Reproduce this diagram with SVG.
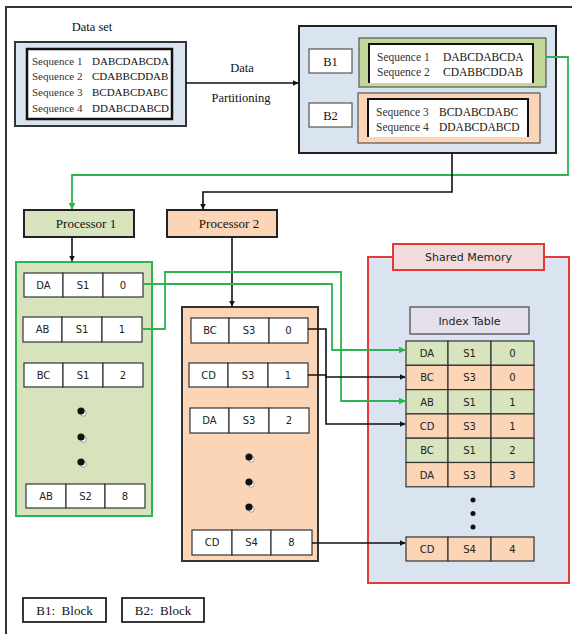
<svg xmlns="http://www.w3.org/2000/svg" width="574" height="634" viewBox="0 0 574 634">
<defs>
<style>
.serif{font-family:"Liberation Serif","Times New Roman",serif;fill:#111}
.sans{font-family:"DejaVu Sans","Verdana",sans-serif;fill:#222;font-size:10px}
.cell{fill:#fff;stroke:#333;stroke-width:1.2}
.gcell{fill:#d7e4bd;stroke:#333;stroke-width:1.2}
.ocell{fill:#fbd5b5;stroke:#333;stroke-width:1.2}
.blk{fill:none;stroke:#111;stroke-width:1.6}
.grn{fill:none;stroke:#2db350;stroke-width:1.8}
</style>
<marker id="ab" viewBox="0 0 10 10" refX="9" refY="5" markerWidth="6" markerHeight="6" orient="auto" markerUnits="userSpaceOnUse"><path d="M0,0 L10,5 L0,10 z" fill="#111"/></marker>
<marker id="ag" viewBox="0 0 10 10" refX="9" refY="5" markerWidth="7" markerHeight="7" orient="auto" markerUnits="userSpaceOnUse"><path d="M0,0 L10,5 L0,10 z" fill="#2db350"/></marker>
<g id="bullet"><circle cx="2.2" cy="2.2" r="3" fill="#fff" stroke="#777" stroke-width="0.7"/><circle cx="0" cy="0" r="3.6" fill="#111"/></g>
</defs>
<rect width="574" height="634" fill="#fff"/>
<path d="M6,634 V7 H572" fill="none" stroke="#333" stroke-width="2"/>

<g id="dataset">
<text class="serif" x="92" y="31" font-size="12.5" text-anchor="middle">Data set</text>
<rect x="15" y="42" width="171" height="84" fill="#dae3f0" stroke="#333" stroke-width="2"/>
<rect x="27" y="49" width="145" height="70" fill="#fff" stroke="#111" stroke-width="2.5"/>
<g class="serif" font-size="11">
<text x="32" y="65" fill="#333">Sequence 1</text><text x="92" y="65">DABCDABCDA</text>
<text x="32" y="80" fill="#333">Sequence 2</text><text x="92" y="80">CDABBCDDAB</text>
<text x="32" y="96" fill="#333">Sequence 3</text><text x="92" y="96">BCDABCDABC</text>
<text x="32" y="112" fill="#333">Sequence 4</text><text x="92" y="112">DDABCDABCD</text>
</g>
</g>

<g id="partition">
<rect x="299" y="26" width="257" height="127" fill="#dae3f0" stroke="#222" stroke-width="2"/>
<rect x="309" y="49" width="43" height="24" fill="#fff" stroke="#555" stroke-width="1.2"/>
<text class="serif" x="330.5" y="65.5" font-size="12.5" text-anchor="middle">B1</text>
<rect x="359" y="38" width="187" height="49" fill="#c4d79b" stroke="#555" stroke-width="1.2"/>
<rect x="369" y="44" width="164" height="39" fill="#fff"/>
<path d="M369,83 V44 H533 V83" fill="none" stroke="#111" stroke-width="2"/>
<g class="serif" font-size="11.5">
<text x="377" y="61" fill="#333">Sequence 1</text><text x="443" y="61">DABCDABCDA</text>
<text x="377" y="76" fill="#333">Sequence 2</text><text x="443" y="76">CDABBCDDAB</text>
</g>
<rect x="309" y="103" width="43" height="24" fill="#fff" stroke="#555" stroke-width="1.2"/>
<text class="serif" x="330.5" y="119.5" font-size="12.5" text-anchor="middle">B2</text>
<rect x="358" y="93" width="182" height="50" fill="#fbd5b5" stroke="#555" stroke-width="1.2"/>
<rect x="368" y="99" width="160" height="38" fill="#fff"/>
<path d="M368,137 V99 H528 V137" fill="none" stroke="#111" stroke-width="2"/>
<g class="serif" font-size="11.5">
<text x="376" y="116" fill="#333">Sequence 3</text><text x="439" y="116">BCDABCDABC</text>
<text x="376" y="131" fill="#333">Sequence 4</text><text x="439" y="131">DDABCDABCD</text>
</g>
</g>

<g id="processor1">
<rect x="24" y="210" width="110" height="27" fill="#d7e4bd" stroke="#222" stroke-width="2"/>
<text class="serif" x="86" y="227.5" font-size="13" text-anchor="middle">Processor 1</text>
</g>
<g id="processor2">
<rect x="167" y="210" width="110" height="27" fill="#fbd5b5" stroke="#222" stroke-width="2"/>
<text class="serif" x="229" y="227.5" font-size="13" text-anchor="middle">Processor 2</text>
</g>

<g id="p1list">
<rect x="16" y="262" width="136" height="254" fill="#d6e3bc" stroke="#2db350" stroke-width="2"/>
<g class="sans" text-anchor="middle">
<rect class="cell" x="24" y="273" width="39" height="24"/><rect class="cell" x="63" y="273" width="40" height="24"/><rect class="cell" x="103" y="273" width="40" height="24"/>
<text x="43.5" y="289">DA</text><text x="83" y="289">S1</text><text x="123" y="289">0</text>
<rect class="cell" x="23" y="317" width="39" height="25"/><rect class="cell" x="62" y="317" width="40" height="25"/><rect class="cell" x="102" y="317" width="40" height="25"/>
<text x="42.5" y="333">AB</text><text x="82" y="333">S1</text><text x="122" y="333">1</text>
<rect class="cell" x="24" y="363" width="39" height="24"/><rect class="cell" x="63" y="363" width="40" height="24"/><rect class="cell" x="103" y="363" width="40" height="24"/>
<text x="43.5" y="379">BC</text><text x="83" y="379">S1</text><text x="123" y="379">2</text>
<rect class="cell" x="26" y="484" width="40" height="24"/><rect class="cell" x="66" y="484" width="39" height="24"/><rect class="cell" x="105" y="484" width="40" height="24"/>
<text x="46" y="500">AB</text><text x="85.5" y="500">S2</text><text x="125" y="500">8</text>
</g>
<use href="#bullet" x="81" y="411"/><use href="#bullet" x="81" y="437"/><use href="#bullet" x="81" y="462"/>
</g>

<g id="p2list">
<rect x="182" y="307" width="136" height="254" fill="#fbd5b5" stroke="#333" stroke-width="2"/>
<g class="sans" text-anchor="middle">
<rect class="cell" x="191" y="318" width="38" height="25"/><rect class="cell" x="229" y="318" width="40" height="25"/><rect class="cell" x="269" y="318" width="39" height="25"/>
<text x="210" y="334">BC</text><text x="249" y="334">S3</text><text x="288.5" y="334">0</text>
<rect class="cell" x="189" y="363" width="39" height="24"/><rect class="cell" x="228" y="363" width="40" height="24"/><rect class="cell" x="268" y="363" width="40" height="24"/>
<text x="208.5" y="379">CD</text><text x="248" y="379">S3</text><text x="288" y="379">1</text>
<rect class="cell" x="190" y="408" width="39" height="25"/><rect class="cell" x="229" y="408" width="40" height="25"/><rect class="cell" x="269" y="408" width="40" height="25"/>
<text x="209.5" y="424">DA</text><text x="249" y="424">S3</text><text x="289" y="424">2</text>
<rect class="cell" x="192" y="530" width="40" height="25"/><rect class="cell" x="232" y="530" width="39" height="25"/><rect class="cell" x="271" y="530" width="41" height="25"/>
<text x="212" y="546">CD</text><text x="251.5" y="546">S4</text><text x="291.5" y="546">8</text>
</g>
<use href="#bullet" x="249" y="457"/><use href="#bullet" x="249" y="482"/><use href="#bullet" x="249" y="507"/>
</g>

<g id="shared">
<rect x="368" y="257" width="201" height="326" fill="#dae3f0" stroke="#e53935" stroke-width="2"/>
<rect x="393" y="244" width="151" height="26" fill="#f2dcdb" stroke="#e53935" stroke-width="2"/>
<text x="468.5" y="261" font-family="DejaVu Sans,Verdana,sans-serif" font-size="11" fill="#222" text-anchor="middle">Shared Memory</text>
<rect x="410" y="307" width="119" height="27" fill="#e6e0ec" stroke="#444" stroke-width="1.2"/>
<text x="469.5" y="325" font-family="DejaVu Sans,Verdana,sans-serif" font-size="11" fill="#222" text-anchor="middle">Index Table</text>
<g class="sans" text-anchor="middle">
<rect class="gcell" x="406" y="341" width="42" height="24.3"/><rect class="gcell" x="448" y="341" width="43" height="24.3"/><rect class="gcell" x="491" y="341" width="43" height="24.3"/>
<text x="427" y="357">DA</text><text x="469.5" y="357">S1</text><text x="512.5" y="357">0</text>
<rect class="ocell" x="406" y="365.3" width="42" height="24.3"/><rect class="ocell" x="448" y="365.3" width="43" height="24.3"/><rect class="ocell" x="491" y="365.3" width="43" height="24.3"/>
<text x="427" y="381">BC</text><text x="469.5" y="381">S3</text><text x="512.5" y="381">0</text>
<rect class="gcell" x="406" y="389.6" width="42" height="24.3"/><rect class="gcell" x="448" y="389.6" width="43" height="24.3"/><rect class="gcell" x="491" y="389.6" width="43" height="24.3"/>
<text x="427" y="405.5">AB</text><text x="469.5" y="405.5">S1</text><text x="512.5" y="405.5">1</text>
<rect class="ocell" x="406" y="413.9" width="42" height="24.3"/><rect class="ocell" x="448" y="413.9" width="43" height="24.3"/><rect class="ocell" x="491" y="413.9" width="43" height="24.3"/>
<text x="427" y="430">CD</text><text x="469.5" y="430">S3</text><text x="512.5" y="430">1</text>
<rect class="gcell" x="406" y="438.2" width="42" height="24.3"/><rect class="gcell" x="448" y="438.2" width="43" height="24.3"/><rect class="gcell" x="491" y="438.2" width="43" height="24.3"/>
<text x="427" y="454">BC</text><text x="469.5" y="454">S1</text><text x="512.5" y="454">2</text>
<rect class="ocell" x="406" y="462.5" width="42" height="24.3"/><rect class="ocell" x="448" y="462.5" width="43" height="24.3"/><rect class="ocell" x="491" y="462.5" width="43" height="24.3"/>
<text x="427" y="478.5">DA</text><text x="469.5" y="478.5">S3</text><text x="512.5" y="478.5">3</text>
<rect class="ocell" x="406" y="537" width="42" height="24" /><rect class="ocell" x="448" y="537" width="43" height="24"/><rect class="ocell" x="491" y="537" width="43" height="24"/>
<text x="427" y="553">CD</text><text x="469.5" y="553">S4</text><text x="512.5" y="553">4</text>
</g>
<circle cx="473" cy="500" r="2.5" fill="#111"/><circle cx="473" cy="513.5" r="2.5" fill="#111"/><circle cx="473" cy="527" r="2.5" fill="#111"/>
</g>

<g id="legend">
<rect x="23" y="598" width="83" height="24" fill="#fff" stroke="#222" stroke-width="1.8"/>
<text class="serif" x="64.5" y="615" font-size="13" text-anchor="middle" xml:space="preserve">B1:  Block</text>
<rect x="122" y="598" width="82" height="24" fill="#fff" stroke="#222" stroke-width="1.8"/>
<text class="serif" x="163" y="615" font-size="13" text-anchor="middle" xml:space="preserve">B2:  Block</text>
</g>

<g id="connectors">
<line class="blk" x1="186" y1="83" x2="298" y2="83" marker-end="url(#ab)"/>
<text class="serif" x="242" y="72" font-size="12.5" text-anchor="middle">Data</text>
<text class="serif" x="241" y="102" font-size="12.5" text-anchor="middle">Partitioning</text>
<path class="grn" d="M546,57 H568 V175 H72 V209" marker-end="url(#ag)"/>
<path class="blk" d="M452,153 V192 H203 V209" marker-end="url(#ab)"/>
<path class="blk" d="M72,237 V261" marker-end="url(#ab)"/>
<path class="blk" d="M232,237 V306" marker-end="url(#ab)"/>
<path class="grn" d="M143,284 H332 V350 H405" marker-end="url(#ag)"/>
<path class="grn" d="M142,329 H165 V272 H341 V401 H405" marker-end="url(#ag)"/>
<path class="blk" d="M308,329 H326 V377 H405" marker-end="url(#ab)"/>
<path class="blk" d="M308,375 H326 V424 H405" marker-end="url(#ab)"/>
<path class="blk" d="M312,543 H405" marker-end="url(#ab)"/>
</g>
</svg>
